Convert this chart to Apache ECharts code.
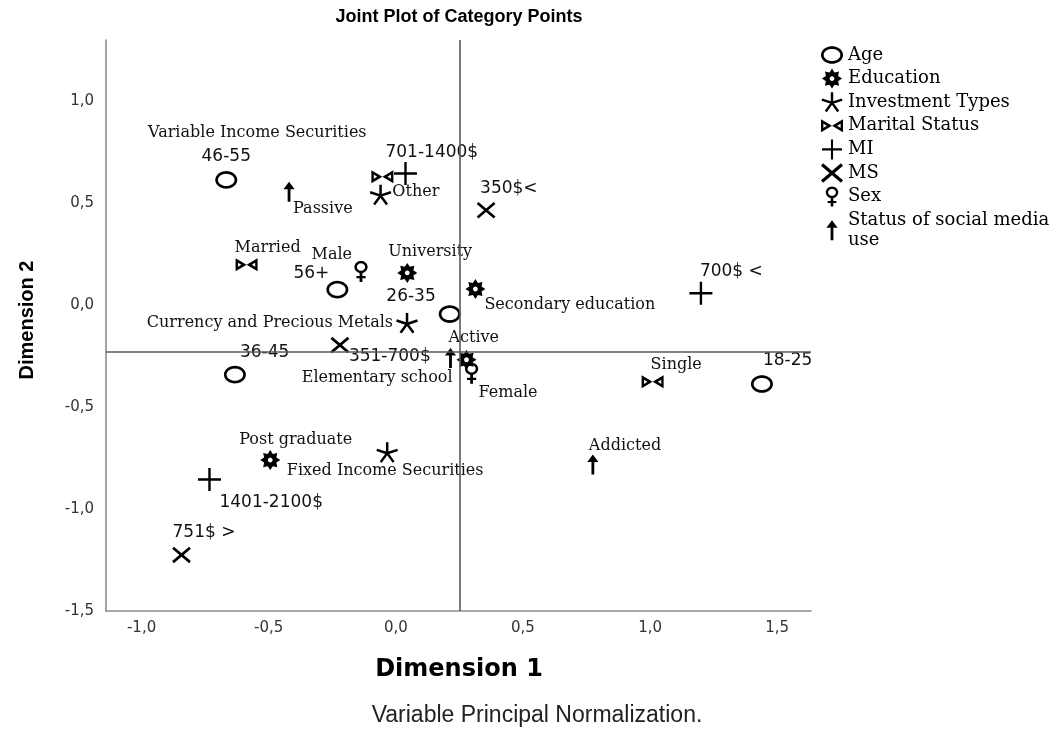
<!DOCTYPE html>
<html>
<head>
<meta charset="utf-8">
<title>Joint Plot of Category Points</title>
<script src="https://cdn.jsdelivr.net/npm/echarts@6/dist/echarts.min.js"></script>
<style>
  html, body { margin: 0; padding: 0; background: #fff; }
  #chart { width: 1062px; height: 729px; }
</style>
</head>
<body>
<div id="chart"></div>
<script>
// Category points: [label, Dimension 1, Dimension 2]
const age = [
  ['18-25', 1.44, -0.387],
  ['26-35', 0.212, -0.044],
  ['36-45', -0.633, -0.341],
  ['46-55', -0.667, 0.614],
  ['56+', -0.23, 0.076]
];
const education = [
  ['University', 0.045, 0.158],
  ['Secondary education', 0.313, 0.079],
  ['Elementary school', 0.278, -0.268],
  ['Post graduate', -0.494, -0.76]
];
const investmentTypes = [
  ['Variable Income Securities', -0.06, 0.54],
  ['Currency and Precious Metals', 0.044, -0.089],
  ['Fixed Income Securities', -0.034, -0.723]
];
const maritalStatus = [
  ['Other', -0.053, 0.63],
  ['Married', -0.587, 0.198],
  ['Single', 1.01, -0.376]
];
const monthlyIncome = [
  ['701-1400$', 0.038, 0.645],
  ['700$ <', 1.2, 0.058],
  ['1401-2100$', -0.733, -0.855]
];
const monthlySpending = [
  ['350$<', 0.355, 0.465],
  ['351-700$', -0.22, -0.196],
  ['751$ >', -0.843, -1.225]
];
const sex = [
  ['Male', -0.137, 0.165],
  ['Female', 0.298, -0.334]
];
const socialMediaUse = [
  ['Passive', -0.42, 0.556],
  ['Active', 0.215, -0.259],
  ['Addicted', 0.775, -0.781]
];

// Reference lines and axis ticks
const refDim1 = 0.252;
const refDim2 = -0.234;
const dim1Ticks = [-1.0, -0.5, 0.0, 0.5, 1.0, 1.5];
const dim2Ticks = [-1.5, -1.0, -0.5, 0.0, 0.5, 1.0];
const dim1Range = [-1.14, 1.633];
const dim2Range = [-1.5, 1.3];

// Label placement relative to each marker: [dx, dy, align]
const labelPlacement = {
  '46-55': [0, -23, 'center'],
  'Passive': [4, 17, 'left'],
  '701-1400$': [-20, -21, 'left'],
  'Other': [10, 15, 'left'],
  'Variable Income Securities': [-14, -62, 'right'],
  '350$<': [-6, -22, 'left'],
  'Married': [-12, -17, 'left'],
  'Male': [-9, -17, 'right'],
  '56+': [-8, -16, 'right'],
  'University': [-19, -21, 'left'],
  '26-35': [-14, -18, 'right'],
  'Secondary education': [9, 16, 'left'],
  '700$ <': [-1, -22, 'left'],
  'Currency and Precious Metals': [-14, 0, 'right'],
  '351-700$': [9, 12, 'left'],
  'Active': [-2, -20, 'left'],
  'Elementary school': [-14, 18, 'right'],
  'Female': [7, 20, 'left'],
  '36-45': [5, -22, 'left'],
  'Single': [-2, -17, 'left'],
  '18-25': [1, -23, 'left'],
  'Post graduate': [-31, -20, 'left'],
  'Fixed Income Securities': [-2, 18, 'center'],
  'Addicted': [-4, -19, 'left'],
  '1401-2100$': [10, 23, 'left'],
  '751$ >': [-9, -22, 'left']
};

// ---- marker glyphs built as filled outlines (holes use reversed winding) ----
function orient(pts, sign) {
  let a = 0;
  for (let i = 0; i < pts.length; i++) {
    const p = pts[i], q = pts[(i + 1) % pts.length];
    a += p[0] * q[1] - q[0] * p[1];
  }
  return (Math.sign(a) === sign) ? pts : pts.slice().reverse();
}
function ellipse(cx, cy, rx, ry, n) {
  const pts = [];
  for (let i = 0; i < n; i++) {
    const t = (i / n) * Math.PI * 2;
    pts.push([cx + rx * Math.cos(t), cy + ry * Math.sin(t)]);
  }
  return pts;
}
function rect(x0, y0, x1, y1) {
  return [[x0, y0], [x1, y0], [x1, y1], [x0, y1]];
}
function segment(x0, y0, x1, y1, h) {
  const len = Math.hypot(x1 - x0, y1 - y0);
  const nx = -(y1 - y0) / len * h, ny = (x1 - x0) / len * h;
  return [[x0 + nx, y0 + ny], [x1 + nx, y1 + ny], [x1 - nx, y1 - ny], [x0 - nx, y0 - ny]];
}
function glyph(solids, holes) {
  const all = [];
  let d = '';
  const add = (pts, sign) => {
    const p = orient(pts, sign);
    p.forEach(v => all.push(v));
    d += 'M' + p.map(v => v[0].toFixed(2) + ' ' + v[1].toFixed(2)).join(' L') + ' Z ';
  };
  solids.forEach(s => add(s, 1));
  (holes || []).forEach(h => add(h, -1));
  const xs = all.map(v => v[0]), ys = all.map(v => v[1]);
  const w = Math.max(...xs) - Math.min(...xs);
  const h = Math.max(...ys) - Math.min(...ys);
  return { symbol: 'path://' + d.trim(), size: [w, h] };
}

// open ellipse for Age
const ringGlyph = glyph([ellipse(0, 0, 11, 8.8, 40)], [ellipse(0, 0, 8.3, 6.1, 40)]);

// eight-spoked sun for Education
const gearGlyph = (function () {
  const pts = [];
  for (let i = 0; i < 16; i++) {
    const t = -Math.PI / 2 + i * Math.PI / 8;
    const r = (i % 2 === 0) ? 10 : 6.6;
    pts.push([r * Math.cos(t), r * Math.sin(t)]);
  }
  return glyph([pts], [ellipse(0, 0, 2.4, 2.4, 16)]);
})();

// five-armed asterisk for Investment Types
const asteriskGlyph = (function () {
  const arms = [];
  for (let i = 0; i < 5; i++) {
    const t = -Math.PI / 2 + i * 2 * Math.PI / 5;
    arms.push(segment(0, 0, 11 * Math.cos(t), 11 * Math.sin(t), 1.25));
  }
  return glyph(arms);
})();

// bowtie for Marital Status
const bowtieGlyph = glyph(
  [[[-11, -6.5], [0, 0], [-11, 6.5]], [[11, -6.5], [11, 6.5], [0, 0]]],
  [[[-8.6, -2.1], [-8.6, 2.1], [-5.2, 0]], [[8.6, -2.1], [5.2, 0], [8.6, 2.1]]]
);

const plusGlyph = glyph([rect(-11.5, -1.2, 11.5, 1.2), rect(-1.2, -11.5, 1.2, 11.5)]);

const crossGlyph = glyph([segment(-8.5, -7.2, 8.5, 7.2, 1.35), segment(-8.5, 7.2, 8.5, -7.2, 1.35)]);

const femaleGlyph = glyph(
  [ellipse(0, -4, 6.6, 6.1, 32), rect(-1.4, 1.4, 1.4, 11), rect(-4.6, 5, 4.6, 7.3)],
  [ellipse(0, -4, 4.1, 3.7, 32)]
);

const arrowGlyph = glyph([[[0, -10], [5.6, -2.4], [-5.6, -2.4]], rect(-1.4, -3.5, 1.4, 10)]);

// ---- series ----
const groups = [
  { name: 'Age', rows: age, g: ringGlyph },
  { name: 'Education', rows: education, g: gearGlyph },
  { name: 'Investment Types', rows: investmentTypes, g: asteriskGlyph },
  { name: 'Marital Status', rows: maritalStatus, g: bowtieGlyph },
  { name: 'MI', rows: monthlyIncome, g: plusGlyph },
  { name: 'MS', rows: monthlySpending, g: crossGlyph },
  { name: 'Sex', rows: sex, g: femaleGlyph },
  { name: 'Status of social media use', rows: socialMediaUse, g: arrowGlyph }
];

function itemLabel(name) {
  const p = labelPlacement[name] || [0, -20, 'center'];
  const numeric = /\d/.test(name);
  return {
    offset: [p[0], p[1]],
    align: p[2],
    fontFamily: numeric ? 'DejaVu Sans' : 'DejaVu Serif',
    fontSize: numeric ? 17 : 16
  };
}

const series = groups.map((grp, idx) => {
  const s = {
    type: 'scatter',
    name: grp.name,
    symbol: grp.g.symbol,
    symbolSize: grp.g.size,
    symbolKeepAspect: false,
    itemStyle: { color: '#000', opacity: 1 },
    silent: true,
    emphasis: { disabled: true },
    label: {
      show: true,
      position: 'inside',
      formatter: '{b}',
      color: '#111',
      fontFamily: 'DejaVu Serif',
      fontSize: 16,
      verticalAlign: 'middle'
    },
    data: grp.rows.map(r => ({ name: r[0], value: [r[1], r[2]], label: itemLabel(r[0]) })),
    z: 3
  };
  if (idx === 0) {
    s.markLine = {
      silent: true,
      symbol: 'none',
      animation: false,
      label: { show: false },
      lineStyle: { color: '#5a5a5a', width: 1.6, type: 'solid' },
      emphasis: { disabled: true },
      data: [{ xAxis: refDim1 }, { yAxis: refDim2 }]
    };
  }
  return s;
});

const fmt = v => v.toFixed(1).replace('.', ',');
const tickFont = { color: '#333', fontFamily: 'DejaVu Sans', fontSize: 15 };

const chart = echarts.init(document.getElementById('chart'), null, { renderer: 'canvas' });
chart.setOption({
  animation: false,
  backgroundColor: '#fff',
  grid: { left: 106, top: 40, width: 705, height: 571, containLabel: false, outerBoundsMode: 'none' },
  xAxis: {
    type: 'value',
    min: dim1Range[0],
    max: dim1Range[1],
    splitLine: { show: false },
    axisTick: { show: false },
    axisLine: { show: true, onZero: false, lineStyle: { color: '#8c8c8c', width: 1.6 } },
    axisLabel: Object.assign({ customValues: dim1Ticks, formatter: fmt, margin: 10 }, tickFont)
  },
  yAxis: {
    type: 'value',
    min: dim2Range[0],
    max: dim2Range[1],
    splitLine: { show: false },
    axisTick: { show: false },
    axisLine: { show: true, onZero: false, lineStyle: { color: '#8c8c8c', width: 1.6 } },
    axisLabel: Object.assign({ customValues: dim2Ticks, formatter: fmt, margin: 12 }, tickFont)
  },
  legend: {
    orient: 'vertical',
    left: 816,
    top: 40,
    itemWidth: 22,
    itemHeight: 20,
    itemGap: 3.6,
    selectedMode: false,
    formatter: n => n.replace(/ use$/, '\nuse'),
    textStyle: { color: '#000', fontFamily: 'DejaVu Serif', fontSize: 18, lineHeight: 20 },
    data: groups.map(g => g.name)
  },
  graphic: [
    { type: 'text', x: 459, y: 17, silent: true,
      style: { text: 'Joint Plot of Category Points', fill: '#000', font: 'bold 18px "Liberation Sans"', textAlign: 'center', textVerticalAlign: 'middle' } },
    { type: 'text', x: 459, y: 670, silent: true,
      style: { text: 'Dimension 1', fill: '#000', font: 'bold 24px "DejaVu Sans"', textAlign: 'center', textVerticalAlign: 'middle' } },
    { type: 'text', x: 27, y: 320, rotation: Math.PI / 2, silent: true,
      style: { text: 'Dimension 2', fill: '#000', font: 'bold 20px "Liberation Sans"', textAlign: 'center', textVerticalAlign: 'middle' } },
    { type: 'text', x: 537, y: 716, silent: true,
      style: { text: 'Variable Principal Normalization.', fill: '#222', font: '23px "Liberation Sans"', textAlign: 'center', textVerticalAlign: 'middle' } }
  ],
  series: series
});
</script>
</body>
</html>
